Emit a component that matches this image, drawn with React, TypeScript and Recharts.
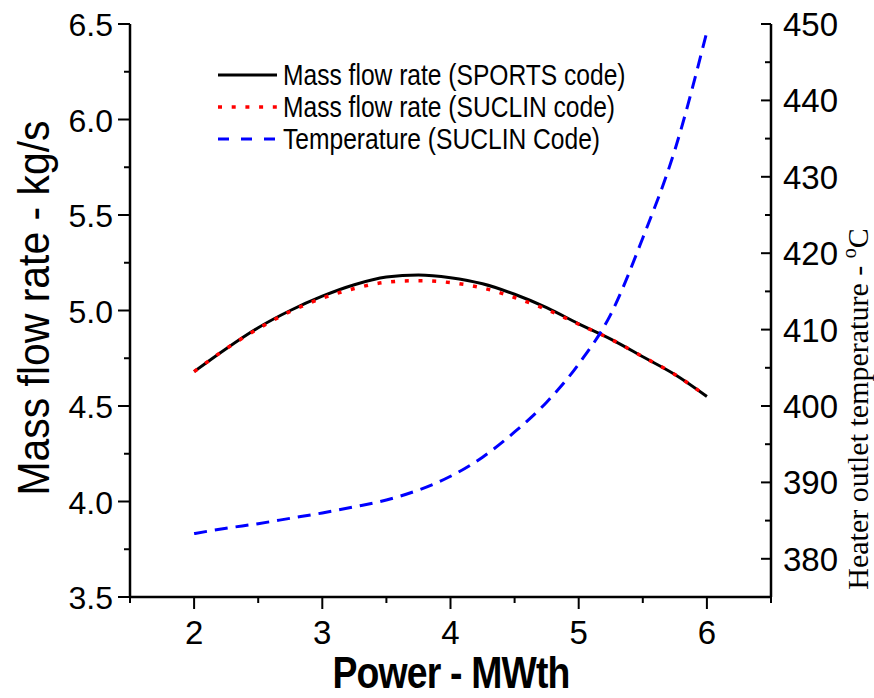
import { LineChart, Line, XAxis, YAxis, Label } from "recharts";

// values
const power = [2, 2.25, 2.5, 2.75, 3, 3.25, 3.5, 3.75, 4, 4.25, 4.5, 4.75, 5, 5.25, 5.5, 5.75, 6];
const massSports = [4.68, 4.8, 4.91, 5.0, 5.075, 5.135, 5.175, 5.186, 5.172, 5.14, 5.085, 5.015, 4.93, 4.85, 4.758, 4.665, 4.55];
const massSuclin = [4.68, 4.8, 4.905, 4.995, 5.065, 5.115, 5.148, 5.156, 5.146, 5.118, 5.068, 5.005, 4.928, 4.85, 4.758, 4.665, 4.55];
const tempSuclin = [383.3, 384.0, 384.6, 385.3, 386.0, 386.8, 387.7, 389.0, 390.8, 393.3, 396.6, 400.5, 405.5, 412.0, 422.0, 433.5, 449.0];

const xTicks = [1.5, 2, 2.5, 3, 3.5, 4, 4.5, 5, 5.5, 6, 6.5];
const leftTicks = [3.5, 3.75, 4, 4.25, 4.5, 4.75, 5, 5.25, 5.5, 5.75, 6, 6.25, 6.5];
const rightTicks = [375, 380, 385, 390, 395, 400, 405, 410, 415, 420, 425, 430, 435, 440, 445, 450];

const data = power.map((p, i) => ({
  power: p,
  sports: massSports[i],
  suclin: massSuclin[i],
  temp: tempSuclin[i],
}));

const SANS = "'Liberation Sans', Arial, sans-serif";
const SERIF = "'Liberation Serif', 'Times New Roman', serif";
const AXIS = { stroke: "#000", strokeWidth: 2.5 };

const BottomTick = ({ x, y, payload }: any) => {
  const v = payload.value;
  const major = Number.isInteger(v);
  return (
    <g>
      <line x1={x} y1={y} x2={x} y2={y + (major ? 12 : 6)} stroke="#000" strokeWidth={2} />
      {major && (
        <text x={x} y={y + 47} textAnchor="middle" fontFamily={SANS} fontSize={33} fill="#000">
          {v}
        </text>
      )}
    </g>
  );
};

const TopTick = ({ x, y, payload }: any) => {
  const major = Number.isInteger(payload.value);
  return <line x1={x} y1={y} x2={x} y2={y + (major ? 12 : 7)} stroke="#000" strokeWidth={2} />;
};

const LeftTick = ({ x, y, payload }: any) => {
  const v = payload.value;
  const major = Math.abs(v * 2 - Math.round(v * 2)) < 1e-6;
  return (
    <g>
      <line x1={x - (major ? 12 : 6)} y1={y} x2={x} y2={y} stroke="#000" strokeWidth={2} />
      {major && (
        <text x={x - 17} y={y + 12} textAnchor="end" fontFamily={SANS} fontSize={32} fill="#000">
          {v.toFixed(1)}
        </text>
      )}
    </g>
  );
};

const RightTick = ({ x, y, payload }: any) => {
  const v = payload.value;
  const major = v % 10 === 0;
  return (
    <g>
      <line x1={x - (major ? 10 : 6)} y1={y} x2={x} y2={y} stroke="#000" strokeWidth={2} />
      {major && (
        <text x={x + 12} y={y + 12} textAnchor="start" fontFamily={SANS} fontSize={33} fill="#000">
          {v}
        </text>
      )}
    </g>
  );
};

const legendRows = [
  { label: "Mass flow rate (SPORTS code)", color: "#000", dash: undefined, width: 3 },
  { label: "Mass flow rate (SUCLIN code)", color: "#ff0000", dash: "4 9.7", width: 3.5 },
  { label: "Temperature (SUCLIN Code)", color: "#0000ff", dash: "11 12", width: 3 },
];

const LegendBox = () => (
  <g>
    {legendRows.map((r, i) => (
      <g key={r.label} transform={`translate(218, ${75 + i * 32})`}>
        <line x1={0} y1={0} x2={59} y2={0} stroke={r.color} strokeWidth={r.width} strokeDasharray={r.dash} />
        <text transform="translate(65, 10) scale(0.82, 1)" fontFamily={SANS} fontSize={30} fill="#000">
          {r.label}
        </text>
      </g>
    ))}
  </g>
);

export default function App() {
  return (
    <div style={{ position: "absolute", left: 0, top: 0, width: 874, height: 698, background: "#fff" }}>
      <LineChart width={874} height={698} data={data} margin={{ top: 24, right: 20, bottom: 20, left: 20 }}>
        <XAxis
          xAxisId="bottom"
          dataKey="power"
          type="number"
          domain={[1.5, 6.5]}
          ticks={xTicks}
          interval={0}
          height={81}
          axisLine={AXIS}
          tickLine={false}
          tickSize={0}
          tickMargin={0}
          tick={<BottomTick />}
        >
          <Label
            content={() => (
              <text
                transform="translate(451, 688) scale(0.85, 1)"
                textAnchor="middle"
                fontFamily={SANS}
                fontWeight="bold"
                fontSize={44}
                letterSpacing={-1}
                fill="#000"
              >
                Power - MWth
              </text>
            )}
          />
        </XAxis>
        <XAxis
          xAxisId="top"
          orientation="top"
          dataKey="power"
          type="number"
          domain={[1.5, 6.5]}
          ticks={xTicks}
          interval={0}
          height={0}
          axisLine={AXIS}
          tickLine={false}
          tickSize={0}
          tickMargin={0}
          tick={<TopTick />}
        />
        <YAxis
          yAxisId="left"
          domain={[3.5, 6.5]}
          ticks={leftTicks}
          interval={0}
          width={110}
          axisLine={AXIS}
          tickLine={false}
          tickSize={0}
          tickMargin={0}
          tick={<LeftTick />}
        >
          <Label
            content={() => (
              <g>
                <text
                  transform="translate(49, 308) rotate(-90) scale(0.93, 1)"
                  textAnchor="middle"
                  fontFamily={SANS}
                  fontSize={44}
                  fill="#000"
                >
                  Mass flow rate - kg/s
                </text>
                <LegendBox />
              </g>
            )}
          />
        </YAxis>
        <YAxis
          yAxisId="right"
          orientation="right"
          domain={[375, 450]}
          ticks={rightTicks}
          interval={0}
          width={83}
          axisLine={AXIS}
          tickLine={false}
          tickSize={0}
          tickMargin={0}
          tick={<RightTick />}
        >
          <Label
            content={() => (
              <text
                transform="translate(868, 409) rotate(-90)"
                textAnchor="middle"
                fontFamily={SERIF}
                fontSize={30}
                fill="#000"
              >
                Heater outlet temperature -{" "}
                <tspan dy={-12} fontSize={20}>o</tspan>
                <tspan dy={12}>C</tspan>
              </text>
            )}
          />
        </YAxis>
        <Line
          xAxisId="bottom"
          yAxisId="left"
          type="monotone"
          dataKey="sports"
          stroke="#000"
          strokeWidth={3}
          dot={false}
          isAnimationActive={false}
        />
        <Line
          xAxisId="bottom"
          yAxisId="left"
          type="monotone"
          dataKey="suclin"
          stroke="#ff0000"
          strokeWidth={3.5}
          strokeDasharray="4 9.7"
          dot={false}
          isAnimationActive={false}
        />
        <Line
          xAxisId="bottom"
          yAxisId="right"
          type="monotone"
          dataKey="temp"
          stroke="#0000ff"
          strokeWidth={3}
          strokeDasharray="13 8"
          dot={false}
          isAnimationActive={false}
        />
      </LineChart>
    </div>
  );
}
